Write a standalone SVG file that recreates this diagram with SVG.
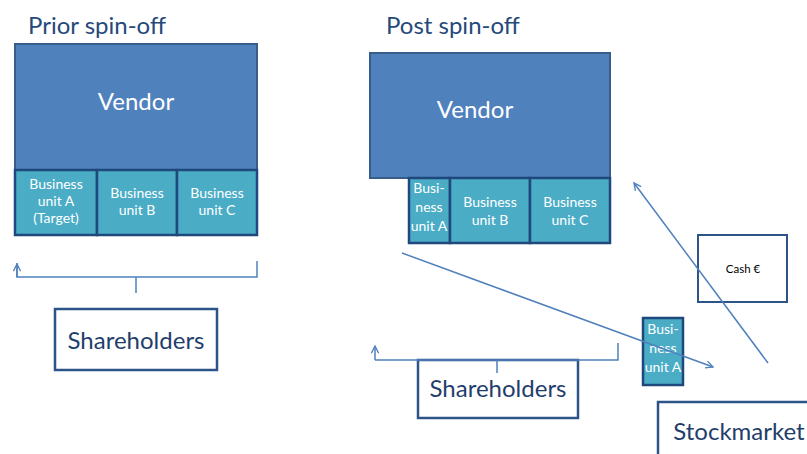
<svg xmlns="http://www.w3.org/2000/svg" width="807" height="454" viewBox="0 0 807 454">
  <style>
    .title { font-family: Lato, "Open Sans", sans-serif; font-size: 24px; fill: #25497a; }
    .vendor rect { fill: #4f81bd; stroke: #385d8a; stroke-width: 2; }
    .vendor text { font-family: Lato, "Open Sans", sans-serif; font-size: 24px; fill: #ffffff; text-anchor: middle; }
    .unit rect { fill: #4bacc6; stroke: #1f497d; stroke-width: 2.5; }
    .unit text { font-family: Lato, "Open Sans", sans-serif; font-size: 14px; fill: #ffffff; text-anchor: middle; }
    .box rect { fill: #ffffff; stroke: #2c5489; stroke-width: 2.5; }
    .box text { font-family: Lato, "Open Sans", sans-serif; font-size: 24px; fill: #1f3e6c; text-anchor: middle; }
    .cash rect { fill: #ffffff; stroke: #2c5489; stroke-width: 2; }
    .cash text { font-family: Lato, "Open Sans", sans-serif; font-size: 11.5px; fill: #000000; text-anchor: middle; }
    .conn { fill: none; stroke: #4f81bd; stroke-width: 1.5; }
  </style>
  <defs>
    <marker id="open" viewBox="0 0 10 10" refX="9" refY="5" markerWidth="9" markerHeight="9" orient="auto" markerUnits="userSpaceOnUse">
      <polyline points="1,1 9,5 1,9" fill="none" stroke="#4f81bd" stroke-width="1.5"/>
    </marker>
  </defs>

  <rect width="807" height="454" fill="#ffffff"/>

  <text class="title" x="28" y="34">Prior spin-off</text>
  <text class="title" x="386" y="34">Post spin-off</text>

  <!-- Before the spin-off -->
  <g id="vendor-prior" class="vendor">
    <rect x="15" y="44" width="242" height="126"/>
    <text x="136" y="110">Vendor</text>
  </g>
  <g id="unit-a-prior" class="unit">
    <rect x="15" y="170" width="82" height="65"/>
    <text x="56" y="189">Business</text>
    <text x="56" y="206">unit A</text>
    <text x="56" y="223">(Target)</text>
  </g>
  <g id="unit-b-prior" class="unit">
    <rect x="97" y="170" width="80" height="65"/>
    <text x="137" y="198">Business</text>
    <text x="137" y="215">unit B</text>
  </g>
  <g id="unit-c-prior" class="unit">
    <rect x="177" y="170" width="80" height="65"/>
    <text x="217" y="198">Business</text>
    <text x="217" y="215">unit C</text>
  </g>
  <g id="shareholders-prior" class="box">
    <rect x="55" y="309" width="162" height="61"/>
    <text x="136" y="349">Shareholders</text>
  </g>

  <!-- After the spin-off -->
  <g id="vendor-post" class="vendor">
    <rect x="370" y="53" width="240" height="125"/>
    <text x="475" y="118">Vendor</text>
  </g>
  <g id="unit-a-post" class="unit">
    <rect x="409" y="178" width="41" height="65"/>
    <text x="429" y="193">Busi-</text>
    <text x="429" y="212">ness</text>
    <text x="429" y="231">unit A</text>
  </g>
  <g id="unit-b-post" class="unit">
    <rect x="450" y="178" width="80" height="65"/>
    <text x="490" y="207">Business</text>
    <text x="490" y="225">unit B</text>
  </g>
  <g id="unit-c-post" class="unit">
    <rect x="530" y="178" width="80" height="65"/>
    <text x="570" y="207">Business</text>
    <text x="570" y="225">unit C</text>
  </g>
  <g id="cash" class="cash">
    <rect x="698" y="235" width="89" height="67"/>
    <text x="743" y="273">Cash €</text>
  </g>
  <g id="unit-a-listed" class="unit">
    <rect x="643" y="318" width="40" height="67"/>
    <text x="663" y="334">Busi-</text>
    <text x="663" y="353">ness</text>
    <text x="663" y="372">unit A</text>
  </g>
  <g id="shareholders-post" class="box">
    <rect x="418" y="360" width="160" height="58"/>
    <text x="498" y="397">Shareholders</text>
  </g>
  <g id="stockmarket" class="box">
    <rect x="658" y="402" width="160" height="70"/>
    <text x="739" y="440">Stockmarket</text>
  </g>

  <g id="connectors">
    <!-- shareholder brackets -->
    <path class="conn" d="M17,263 V277 H257 V261 M136,277 V293" />
    <path class="conn" d="M17,277 V264" marker-end="url(#open)"/>
    <path class="conn" d="M375,360 H618 V343 M497,360 V373"/>
    <path class="conn" d="M375,360 V346" marker-end="url(#open)"/>
    <!-- unit A goes to the stockmarket, cash comes back to the vendor -->
    <line class="conn" x1="402" y1="253" x2="713" y2="367" marker-end="url(#open)"/>
    <line class="conn" x1="768" y1="363" x2="634" y2="183" marker-end="url(#open)"/>
  </g>
</svg>
